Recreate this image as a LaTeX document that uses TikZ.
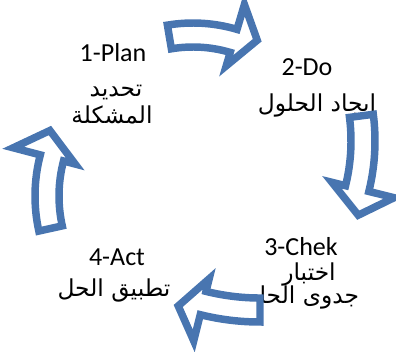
\documentclass[tikz,border=0pt]{standalone}
\usepackage{fontspec}
\setmainfont{Carlito}
\newfontfamily\arabicfont[Script=Arabic]{DejaVu Sans}
\TeXXeTstate=1
\usepackage{tikz}

\definecolor{cycleblue}{RGB}{72,117,176}

\tikzset{
	steplabel/.style={anchor=base, inner sep=0pt, font=\fontsize{19.5}{23}\selectfont},
	steptext/.style={anchor=base, inner sep=0pt, font=\arabicfont\fontsize{17.5}{20}\selectfont},
	arrowband/.style={draw=cycleblue, fill=white, line width=5.6pt, line join=miter}
}

% curved block arrow: centre, band radius, head radius, tail angle, head angle, tip angle
\newcommand{\cyclearrow}[6]{%
	\begin{scope}[shift={(#1)}]
		\draw[arrowband] ({#4}:{#2+12}) arc[start angle=#4, end angle=#5, radius=#2+12]
			-- ({#5}:{#3+32}) -- ({#6}:{#3+3}) -- ({#5}:{#3-32}) -- ({#5}:{#2-12})
			arc[start angle=#5, end angle=#4, radius=#2-12] -- cycle;
	\end{scope}}

\begin{document}
\begin{tikzpicture}[x=0.75pt, y=0.75pt]
	
	\useasboundingbox (0,0) rectangle (396,351);
	
	\node[steplabel] (plan) at (113, 289)     {1-Plan};
	\node[steptext] (plana) at (116, 254)     {\beginR تحديد\endR};
	\node[steptext] (planb) at (112, 228)     {\beginR المشكلة\endR};
	\node[steplabel] (do) at (307, 276)     {2-Do};
	\node[steptext] (doa) at (317, 239)     {\beginR إيجاد الحلول\endR};
	\node[steplabel] (chek) at (301, 96)     {3-Chek};
	\node[steptext] (cheka) at (309, 71)     {\beginR اختبار\endR};
	\node[steptext] (chekb) at (304, 48)     {\beginR جدوى الحل\endR};
	\node[steplabel] (act) at (117, 86)     {4-Act};
	\node[steptext] (acta) at (114, 55)     {\beginR تطبيق الحل\endR};
	
	\cyclearrow{193,173}{143}{149}{99.5}{73.5}{65}
	\cyclearrow{165,210}{198}{204}{7.3}{-13.9}{-21}
	\cyclearrow{260,276}{235}{242}{-90}{-104}{-109.5}
	\cyclearrow{197,155}{150}{158}{192.5}{165.3}{156}
	
\end{tikzpicture}
\end{document}
